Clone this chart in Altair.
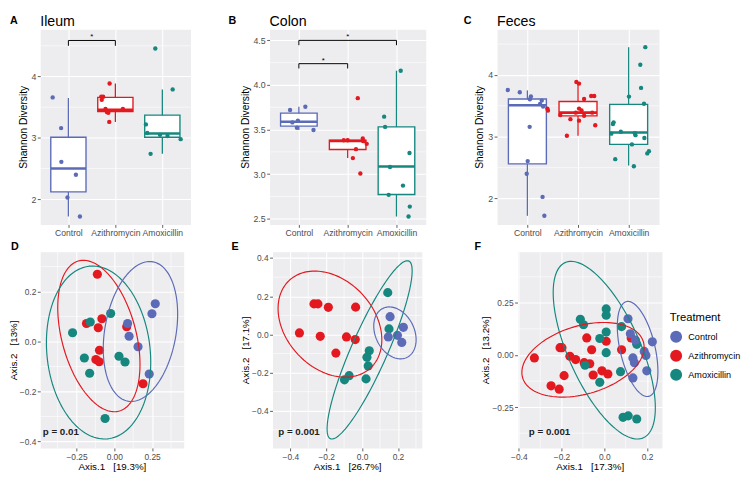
import altair as alt
import numpy as np
import pandas as pd

GROUPS = ["Control", "Azithromycin", "Amoxicillin"]
COLORS = ["#5B6BB7", "#E3191F", "#16877F"]
FONT = "Liberation Sans"
BG = "#EDEDF0"

# ---------------- A: Ileum (x = jittered group position, y = Shannon) ----------------
ileum_ctrl_x = [0.665, 0.845, 0.85, 1.16, 0.98, 1.245]
ileum_ctrl_y = [3.66, 3.16, 2.61, 2.40, 2.03, 1.72]
ileum_azi_x = [1.877, 1.70, 1.74, 1.71, 1.79, 1.82, 1.85, 2.16, 1.87]
ileum_azi_y = [3.886, 3.67, 3.67, 3.62, 3.47, 3.42, 3.41, 3.47, 3.26]
ileum_amox_x = [2.85, 3.22, 2.65, 2.68, 2.95, 3.11, 3.39, 2.75]
ileum_amox_y = [4.457, 3.79, 3.22, 3.08, 3.05, 3.03, 2.98, 2.74]
# lower whisker, q1, median, q3, upper whisker
ileum_box = [[1.72, 2.12, 2.50, 3.01, 3.65],
             [3.26, 3.43, 3.46, 3.66, 3.886],
             [2.74, 3.01, 3.07, 3.37, 3.79]]
ileum_brackets = [[1, 2, 4.587, 4.50]]

# ---------------- B: Colon ----------------
colon_ctrl_x = [0.82, 1.133, 0.98, 0.867, 0.96, 1.30]
colon_ctrl_y = [3.72, 3.756, 3.60, 3.58, 3.52, 3.495]
colon_azi_x = [2.207, 1.92, 2.0, 2.31, 2.32, 2.39, 2.17, 2.107, 2.26]
colon_azi_y = [3.852, 3.38, 3.38, 3.40, 3.37, 3.34, 3.28, 3.18, 3.008]
colon_amox_x = [3.087, 2.747, 2.767, 3.267, 2.867, 3.133, 2.84, 3.273, 3.247]
colon_amox_y = [4.16, 3.645, 3.53, 3.237, 3.08, 2.872, 2.768, 2.636, 2.525]
colon_box = [[3.495, 3.538, 3.588, 3.684, 3.756],
             [3.18, 3.276, 3.373, 3.38, 3.40],
             [2.525, 2.772, 3.087, 3.53, 4.16]]
colon_brackets = [[1, 3, 4.5, 4.446], [1, 2, 4.239, 4.185]]

# ---------------- C: Feces ----------------
feces_ctrl_x = [0.613, 0.85, 1.07, 1.05, 1.284, 1.25, 1.31, 1.045, 1.006, 0.987, 1.30, 1.335]
feces_ctrl_y = [3.756, 3.72, 3.653, 3.606, 3.585, 3.53, 3.49, 3.16, 2.606, 2.40, 2.026, 1.72]
feces_azi_x = [1.968, 2.02, 1.394, 1.406, 1.65, 1.955, 2.02, 2.07, 2.12, 2.26, 2.32, 2.28,
               2.12, 2.02, 1.85, 2.34, 1.78]
feces_azi_y = [3.886, 3.86, 3.456, 3.425, 3.35, 3.39, 3.456, 3.425, 3.61, 3.66, 3.66, 3.39,
               3.34, 3.26, 3.285, 3.186, 3.016]
feces_amox_x = [3.329, 3.23, 3.245, 3.006, 3.303, 2.703, 2.69, 2.658, 2.845, 3.123, 3.135,
                3.31, 3.065, 3.4, 3.368, 2.735, 3.103]
feces_amox_y = [4.45, 4.166, 3.79, 3.65, 3.534, 3.233, 3.207, 3.05, 3.08, 3.057, 3.026,
                2.98, 2.876, 2.767, 2.73, 2.637, 2.523]
feces_box = [[1.72, 2.56, 3.51, 3.61, 3.75],
             [3.016, 3.337, 3.39, 3.57, 3.886],
             [2.534, 2.876, 3.067, 3.523, 4.45]]
feces_brackets = []

# ---------------- D: Ileum PCoA ----------------
D_ctrl_x = [0.271, 0.249, 0.088, 0.098, 0.157, 0.231]
D_ctrl_y = [0.151, 0.111, 0.072, 0.021, -0.021, -0.130]
D_azi_x = [-0.112, -0.082, -0.184, -0.106, -0.098, -0.122, -0.100, 0.082, 0.190]
D_azi_y = [0.269, 0.091, 0.072, 0.055, -0.035, -0.072, -0.081, 0.059, -0.169]
D_amox_x = [-0.276, -0.159, -0.024, -0.198, -0.163, 0.031, 0.071, -0.061]
D_amox_y = [0.035, 0.078, 0.112, -0.066, -0.127, -0.059, -0.082, -0.308]
# ellipse: centre x, centre y, half x-extent, half y-extent, x offset of top point
D_ell = [[0.173, 0.040, 0.246, 0.280, 0.061],
         [-0.102, 0.022, 0.272, 0.303, -0.102],
         [-0.104, -0.044, 0.345, 0.346, -0.039]]
D_p = [-0.473, -0.364, "p = 0.01"]

# ---------------- E: Colon PCoA ----------------
E_ctrl_x = [0.156, 0.146, 0.230, 0.197, 0.221]
E_ctrl_y = [0.093, -0.013, 0.037, -0.005, -0.042]
E_azi_x = [-0.349, -0.268, -0.246, -0.188, -0.036, -0.233, -0.087, -0.038, -0.146]
E_azi_y = [0.008, 0.160, 0.160, 0.142, 0.143, -0.010, -0.013, -0.027, -0.098]
E_amox_x = [0.143, 0.150, 0.040, 0.027, 0.034, 0.022, -0.072, -0.098]
E_amox_y = [0.219, 0.029, -0.086, -0.120, -0.165, -0.233, -0.216, -0.238]
E_ell = [[0.183, 0.008, 0.118, 0.136, -0.031],
         [-0.179, 0.054, 0.289, 0.278, -0.085],
         [0.042, -0.081, 0.237, 0.467, 0.210]]
E_p = [-0.467, -0.514, "p = 0.001"]

# ---------------- F: Feces PCoA ----------------
F_ctrl_x = [0.111, 0.122, 0.146, 0.187, 0.195, 0.134, 0.141, 0.199, 0.134, 0.225]
F_ctrl_y = [0.174, 0.102, 0.071, 0.017, -0.002, -0.014, -0.037, -0.076, -0.110, 0.063]
F_azi_x = [-0.327, -0.207, -0.198, -0.188, -0.249, -0.211, -0.161, -0.134, -0.094, -0.068,
           -0.082, -0.059, -0.052, -0.011, 0.017, 0.009, 0.081, 0.126]
F_azi_y = [-0.014, 0.035, 0.035, -0.099, -0.148, -0.164, -0.006, -0.022, -0.037, -0.042,
           0.082, 0.025, -0.096, -0.076, -0.091, 0.066, 0.025, 0.082]
F_amox_x = [-0.112, -0.097, 0.009, 0.009, 0.009, -0.021, 0.009, -0.090, -0.021, 0.081,
            0.152, 0.076, 0.088, 0.112, 0.152]
F_amox_y = [0.171, 0.145, 0.221, 0.191, 0.110, 0.079, 0.011, -0.049, -0.131, 0.136,
            0.051, -0.080, -0.299, -0.292, -0.307]
F_ell = [[0.156, 0.029, 0.095, 0.228, -0.045],
         [-0.0995, -0.023, 0.286, 0.179, 0.0965],
         [0.0, 0.023, 0.239, 0.426, -0.155]]
F_p = [-0.353, -0.372, "p = 0.001"]

cscale = alt.Scale(domain=GROUPS, range=COLORS)
TOP_H = 200
BOT_H = 201


def points_df(xs_list, ys_list, order):
    frames = []
    for gi in order:
        frames.append(pd.DataFrame({"x": xs_list[gi], "y": ys_list[gi], "g": GROUPS[gi]}))
    return pd.concat(frames, ignore_index=True)


def text_layer(txt, dx, dy, size, weight, baseline):
    return alt.Chart(pd.DataFrame({"t": [txt]})).mark_text(
        align="left", baseline=baseline, fontSize=size, fontWeight=weight, font=FONT, color="black"
    ).encode(x=alt.value(dx), y=alt.value(dy), text="t:N")


def spacer_layer(dx):
    # invisible mark that reserves room to the left of a panel
    return alt.Chart(pd.DataFrame({"s": [0]})).mark_rule(opacity=0).encode(
        x=alt.value(dx), y=alt.value(0), y2=alt.value(1))


def box_panel(xs, ys, box, brackets, ydom, yticks, yminor, yfmt, title, letter, ldx, width,
              spacer=None):
    xscale = alt.Scale(domain=[0.4, 3.6], nice=False, zero=False)
    yscale = alt.Scale(domain=ydom, nice=False, zero=False)
    label_expr = "[" + ",".join("'" + g + "'" for g in GROUPS) + "][datum.value - 1]"
    xaxis = alt.Axis(values=[1, 2, 3], labelExpr=label_expr, title=None, labelFontSize=8.8,
                     labelPadding=1.5)
    yaxis = alt.Axis(values=yticks, format=yfmt, title="Shannon Diversity", titleFontSize=10.5,
                     labelFontSize=9, titlePadding=3, labelPadding=1.5)

    def xe(f):
        return alt.X(f + ":Q", scale=xscale, axis=xaxis)

    def ye(f):
        return alt.Y(f + ":Q", scale=yscale, axis=yaxis)

    pts = points_df(xs, ys, [0, 1, 2])
    stats = pd.DataFrame({
        "g": GROUPS, "pos": [1, 2, 3],
        "lower": [b[0] for b in box], "q1": [b[1] for b in box], "med": [b[2] for b in box],
        "q3": [b[3] for b in box], "upper": [b[4] for b in box]})

    minor = alt.Chart(pd.DataFrame({"v": yminor})).mark_rule(color="white", strokeWidth=0.6).encode(
        y=ye("v"))
    base = alt.Chart(stats).transform_calculate(lo="datum.pos - 0.375", hi="datum.pos + 0.375")
    whisk = base.mark_rule(strokeWidth=1.3).encode(
        x=xe("pos"), y=ye("lower"), y2="upper", color=alt.Color("g:N", scale=cscale, legend=None))
    rect = base.mark_rect(fill="white", strokeWidth=1.4).encode(
        x=xe("lo"), x2="hi", y=ye("q1"), y2="q3",
        stroke=alt.Stroke("g:N", scale=cscale, legend=None))
    med = base.mark_rule(strokeWidth=2.6).encode(
        x=xe("lo"), x2="hi", y=ye("med"), color=alt.Color("g:N", scale=cscale, legend=None))
    dots = alt.Chart(pts).mark_circle(size=20, opacity=1).encode(
        x=xe("x"), y=ye("y"), color=alt.Color("g:N", scale=cscale, legend=None))
    layers = [minor, whisk, rect, med, dots]
    if brackets:
        bdf = pd.DataFrame(brackets, columns=["x1", "x2", "y", "yt"])
        bbase = alt.Chart(bdf).transform_calculate(xm="(datum.x1 + datum.x2) / 2")
        layers.append(bbase.mark_rule(color="black", strokeWidth=1).encode(
            x=xe("x1"), x2="x2", y=ye("y")))
        layers.append(bbase.mark_rule(color="black", strokeWidth=1).encode(
            x=xe("x1"), y=ye("yt"), y2="y"))
        layers.append(bbase.mark_rule(color="black", strokeWidth=1).encode(
            x=xe("x2"), y=ye("yt"), y2="y"))
        layers.append(bbase.mark_text(text="*", fontSize=8, baseline="alphabetic", dy=-1,
                                      font=FONT, color="black").encode(x=xe("xm"), y=ye("y")))
    layers.append(text_layer(title, 0, -3, 14.5, "normal", "alphabetic"))
    layers.append(text_layer(letter, ldx, -14, 11, "bold", "top"))
    if spacer is not None:
        layers.append(spacer_layer(spacer))
    return alt.layer(*layers).properties(width=width, height=TOP_H)


def ellipse_df(params, order):
    t = np.linspace(0, 2 * np.pi, 145)
    frames = []
    for gi in order:
        cx, cy, rx, ry, dxt = params[gi]
        phi = np.arcsin(dxt / rx)
        frames.append(pd.DataFrame({"x": cx + rx * np.cos(t), "y": cy + ry * np.sin(t + phi),
                                    "g": GROUPS[gi], "i": np.arange(len(t))}))
    return pd.concat(frames, ignore_index=True)


def pcoa_panel(xs, ys, ell, ptxt, xdom, xticks, xminor, xfmt, ydom, yticks, yminor, yfmt,
               xtitle, ytitle, letter, ldx, width, spacer=None, legend=None):
    xscale = alt.Scale(domain=xdom, nice=False, zero=False)
    yscale = alt.Scale(domain=ydom, nice=False, zero=False)
    xaxis = alt.Axis(values=xticks, format=xfmt, title=xtitle, titleFontSize=10,
                     labelFontSize=8.6, titlePadding=1, labelPadding=1.5)
    yaxis = alt.Axis(values=yticks, format=yfmt, title=ytitle, titleFontSize=10,
                     labelFontSize=8.6, titlePadding=1, labelPadding=1.5)

    def xe(f):
        return alt.X(f + ":Q", scale=xscale, axis=xaxis)

    def ye(f):
        return alt.Y(f + ":Q", scale=yscale, axis=yaxis)

    vmin = alt.Chart(pd.DataFrame({"v": xminor})).mark_rule(color="white", strokeWidth=0.6).encode(
        x=xe("v"))
    hmin = alt.Chart(pd.DataFrame({"v": yminor})).mark_rule(color="white", strokeWidth=0.6).encode(
        y=ye("v"))
    pts = points_df(xs, ys, [1, 2, 0])
    dots = alt.Chart(pts).mark_circle(size=88, opacity=1).encode(
        x=xe("x"), y=ye("y"), color=alt.Color("g:N", scale=cscale, legend=legend))
    ells = alt.Chart(ellipse_df(ell, [1, 2, 0])).mark_line(strokeWidth=1.2, clip=True).encode(
        x=xe("x"), y=ye("y"), stroke=alt.Stroke("g:N", scale=cscale, legend=None),
        detail="g:N", order="i:Q")
    ptext = alt.Chart(pd.DataFrame({"x": [ptxt[0]], "y": [ptxt[1]], "t": [ptxt[2]]})).mark_text(
        align="left", baseline="middle", fontSize=10, fontWeight="bold", font=FONT, color="#222222"
    ).encode(x=xe("x"), y=ye("y"), text="t:N")
    layers = [vmin, hmin, dots, ells, ptext, text_layer(letter, ldx, -11, 11, "bold", "top")]
    if spacer is not None:
        layers.append(spacer_layer(spacer))
    return alt.layer(*layers).properties(width=width, height=BOT_H)


A = box_panel([ileum_ctrl_x, ileum_azi_x, ileum_amox_x], [ileum_ctrl_y, ileum_azi_y, ileum_amox_y],
              ileum_box, ileum_brackets, [1.59, 4.77], [2, 3, 4], [2.5, 3.5, 4.5], "d",
              "Ileum", "A", -31, 154)
B = box_panel([colon_ctrl_x, colon_azi_x, colon_amox_x], [colon_ctrl_y, colon_azi_y, colon_amox_y],
              colon_box, colon_brackets, [2.436, 4.625], [2.5, 3.0, 3.5, 4.0, 4.5],
              [2.75, 3.25, 3.75, 4.25], ".1f", "Colon", "B", -42, 160, spacer=-46)
C = box_panel([feces_ctrl_x, feces_azi_x, feces_amox_x], [feces_ctrl_y, feces_azi_y, feces_amox_y],
              feces_box, feces_brackets, [1.58, 4.74], [2, 3, 4], [2.5, 3.5, 4.5], "d",
              "Feces", "C", -34, 166, spacer=-38)

NB = "\u00a0\u00a0"
D = pcoa_panel([D_ctrl_x, D_azi_x, D_amox_x], [D_ctrl_y, D_azi_y, D_amox_y], D_ell, D_p,
               [-0.49, 0.459], [-0.25, 0, 0.25], [-0.375, -0.125, 0.125, 0.375], ".2f",
               [-0.426, 0.359], [-0.4, -0.2, 0, 0.2], [-0.3, -0.1, 0.1, 0.3], ".1f",
               "Axis.1" + NB + " [19.3%]", "Axis.2" + NB + " [13%]", "D", -30, 147)
E = pcoa_panel([E_ctrl_x, E_azi_x, E_amox_x], [E_ctrl_y, E_azi_y, E_amox_y], E_ell, E_p,
               [-0.499, 0.333], [-0.4, -0.2, 0, 0.2], [-0.3, -0.1, 0.1, 0.3], ".1f",
               [-0.595, 0.433], [-0.4, -0.2, 0, 0.2, 0.4], [-0.5, -0.3, -0.1, 0.1, 0.3], ".1f",
               "Axis.1" + NB + " [26.7%]", "Axis.2" + NB + " [17.1%]", "E", -42, 153, spacer=-49)
F = pcoa_panel([F_ctrl_x, F_azi_x, F_amox_x], [F_ctrl_y, F_azi_y, F_amox_y], F_ell, F_p,
               [-0.406, 0.27], [-0.4, -0.2, 0, 0.2], [-0.3, -0.1, 0.1], ".1f",
               [-0.446, 0.495], [-0.25, 0, 0.25], [-0.375, -0.125, 0.125, 0.375], ".2f",
               "Axis.1" + NB + " [17.3%]", "Axis.2" + NB + " [13.2%]", "F", -44, 148, spacer=-56,
               legend=alt.Legend(title="Treatment", orient="none", legendX=156, legendY=62,
                                 symbolType="circle", symbolSize=150, symbolStrokeWidth=0,
                                 titleFontSize=11.5, titleFont=FONT, titleFontWeight="normal",
                                 titleColor="black", labelFontSize=9.3, labelFont=FONT,
                                 labelColor="black", padding=0, rowPadding=6.5, titlePadding=7,
                                 labelOffset=6))

chart = alt.concat(A, B, C, D, E, F, columns=3, align="none",
                   spacing={"row": 2, "column": 33}).resolve_legend(
    color="independent", stroke="independent"
).properties(padding=0, background="white").configure_view(
    fill=BG, stroke="transparent"
).configure_axis(
    labelFont=FONT, titleFont=FONT, labelColor="#4D4D4D", titleColor="black",
    titleFontWeight="normal", tickColor="#333333", tickSize=3, tickWidth=0.8, domain=False,
    gridColor="white", gridWidth=1.1
)

chart.save("out.html", embed_options={"renderer": "svg", "actions": False})
